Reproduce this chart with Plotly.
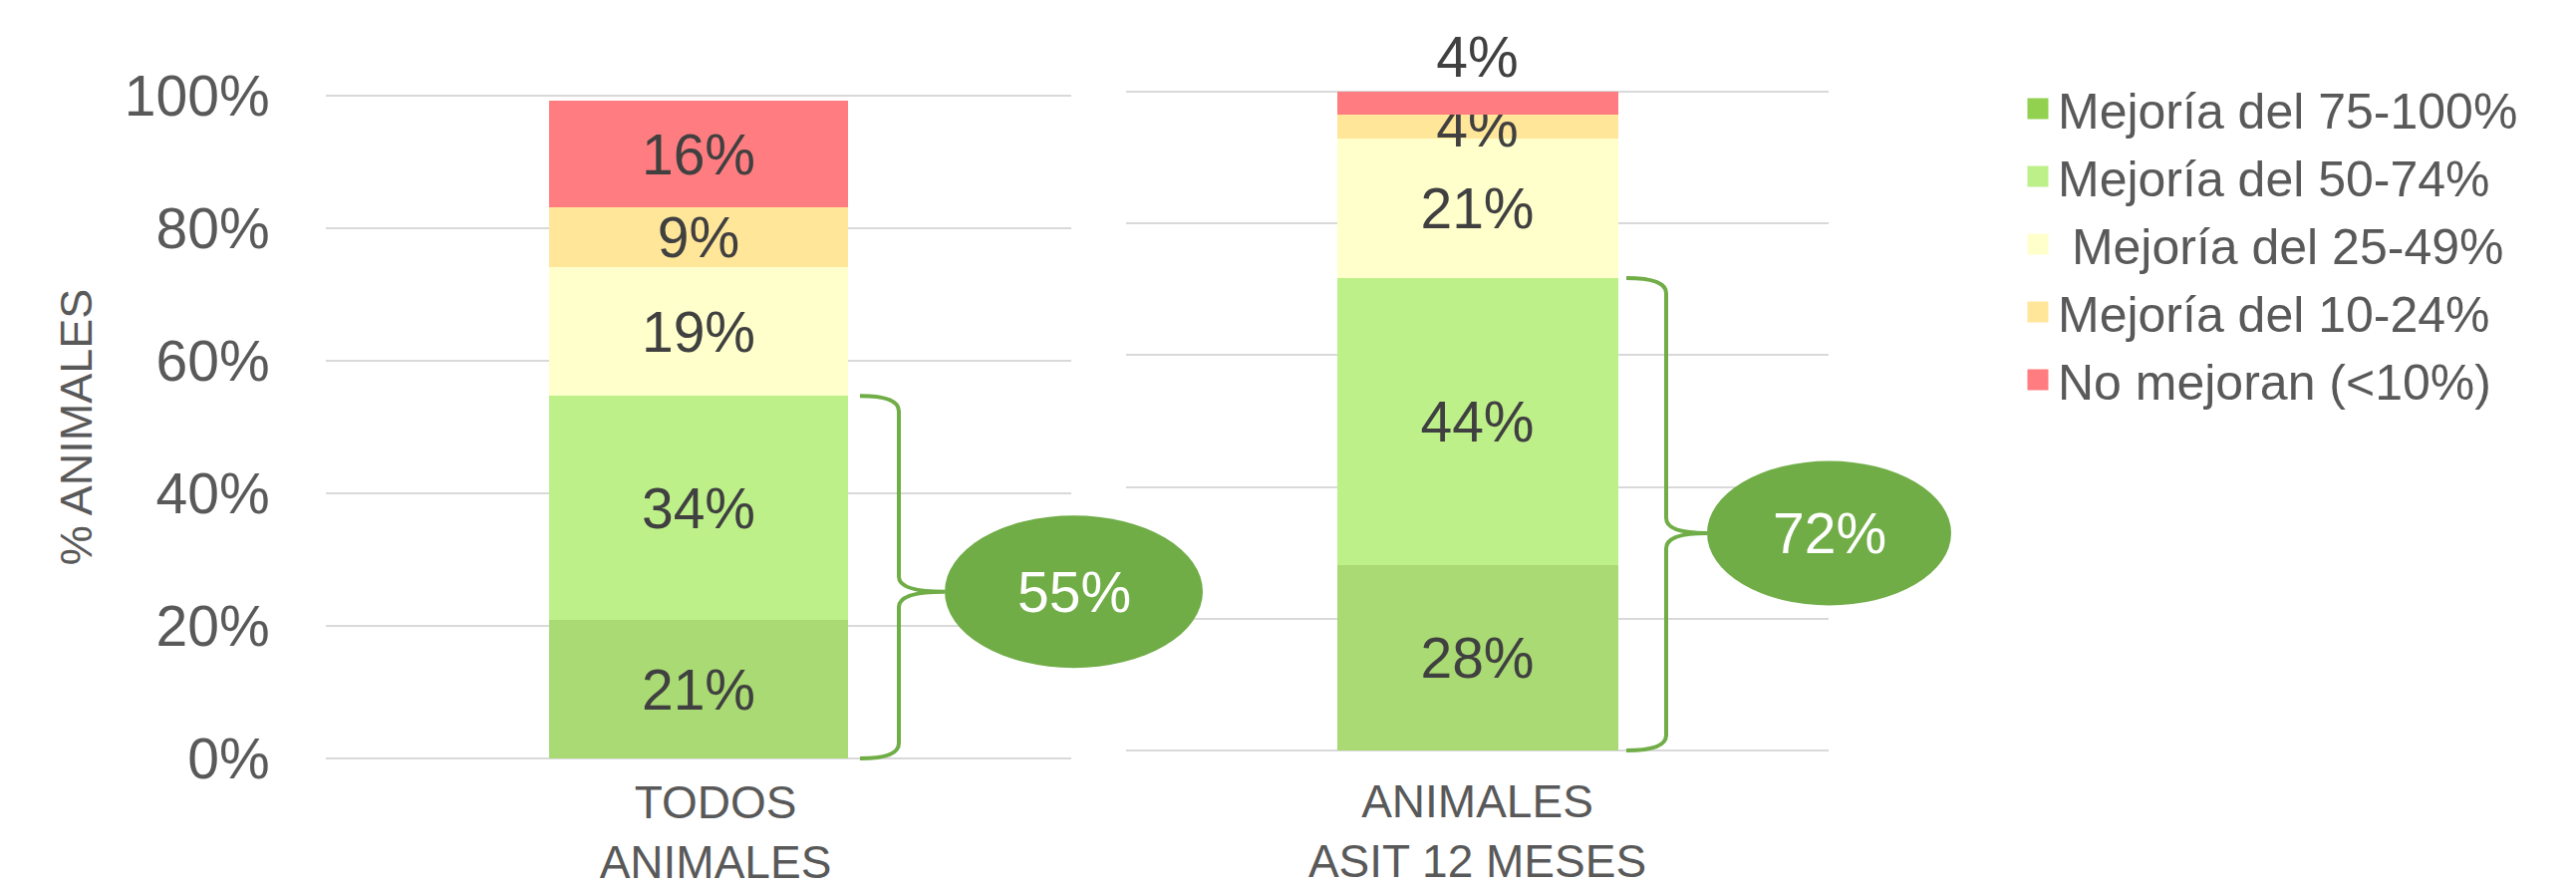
import plotly.graph_objects as go

# ---------------- data ----------------
series_names = ["Mejoría del 75-100%", "Mejoría del 50-74%", " Mejoría del 25-49%",
                "Mejoría del 10-24%", "No mejoran (<10%)"]
bar_colors = ["#A9DA74", "#BEF08A", "#FFFFCC", "#FFE699", "#FF7C80"]
legend_colors = ["#92D050", "#BEF08A", "#FFFFCC", "#FFE699", "#FF7C80"]

cat_left = "TODOS<br>ANIMALES"
cat_right = "ANIMALES<br>ASIT 12 MESES"

values_left = [20.9, 33.8, 19.4, 9.1, 16.0]
values_right = [28.1, 43.6, 21.2, 3.6, 3.5]

y_ticks = [0, 20, 40, 60, 80, 100]
y_ticktext = [f"{v}%" for v in y_ticks]

# ---------------- layout constants ----------------
W, H = 2585, 892
FONT = "Liberation Sans, Arial, sans-serif"
GREEN = "#70AD47"
TXT = "#404040"
AX = "#595959"
PAD = 0.6  # small range padding so the 0% / 100% gridlines are drawn

def px_x(p):
    return p / W

def px_y(p):
    return 1 - p / H

def ydom(p0, p100):
    unit = (p0 - p100) / 100.0
    return [px_y(p0 + PAD * unit), px_y(p100 - PAD * unit)]

x1_dom = [px_x(327), px_x(1075)]
x2_dom = [px_x(1130), px_x(1835)]
y1_dom = ydom(761, 96)
y2_dom = ydom(753, 92)

def lbl(v):
    return f"{int(v + 0.5)}%"

fig = go.Figure()

for vals, xa, ya in [(values_left, "x", "y"), (values_right, "x2", "y2")]:
    for i, (name, v) in enumerate(zip(series_names, vals)):
        top = (i == len(vals) - 1)
        pos = "outside" if (top and v < 5) else "inside"
        fig.add_trace(go.Bar(
            x=[0], y=[v], width=0.4, name=name,
            marker=dict(color=bar_colors[i], line=dict(width=0)),
            text=[lbl(v)], textposition=pos, textangle=0,
            insidetextanchor="middle",
            textfont=dict(size=57, color=TXT, family=FONT),
            cliponaxis=False, showlegend=False, hoverinfo="skip",
            xaxis=xa, yaxis=ya,
        ))

# legend entries
for k, (name, c) in enumerate(zip(series_names, legend_colors)):
    fig.add_trace(go.Scatter(
        x=[None], y=[None], mode="markers", name=name, legendgroup=f"g{k}",
        marker=dict(symbol="square", size=16, color=c, line=dict(width=5, color=c)),
        xaxis="x", yaxis="y",
    ))

# ---------------- braces + ellipses ----------------
shapes = []
annotations = []

def y_to_paper(val, dom):
    lo, hi = -PAD, 100 + PAD
    return dom[0] + (val - lo) / (hi - lo) * (dom[1] - dom[0])

for vals, ya, dom, bar_right, dxs, ell in [
    (values_left, "y", y1_dom, 851, (12, 51, 97), (259, 153)),
    (values_right, "y2", y2_dom, 1624, (8, 48, 89), (245, 145)),
]:
    ytop = vals[0] + vals[1]
    ybot = 0.0
    ymid = ytop * 0.46
    d = 2.3
    x0 = px_x(bar_right + dxs[0])
    x1 = px_x(bar_right + dxs[1])
    x2 = px_x(bar_right + dxs[2])
    path = (f"M {x0},{ytop} Q {x1},{ytop} {x1},{ytop - d} "
            f"L {x1},{ymid + d} Q {x1},{ymid} {x2},{ymid} "
            f"Q {x1},{ymid} {x1},{ymid - d} "
            f"L {x1},{ybot + d} Q {x1},{ybot} {x0},{ybot}")
    shapes.append(dict(type="path", path=path, xref="paper", yref=ya,
                       line=dict(color=GREEN, width=4), layer="above"))
    cy = y_to_paper(ymid, dom)
    ew, eh = ell[0] / W, ell[1] / H
    shapes.append(dict(type="circle", xref="paper", yref="paper",
                       x0=x2, x1=x2 + ew, y0=cy - eh / 2, y1=cy + eh / 2,
                       fillcolor=GREEN, line=dict(width=0), layer="above"))
    annotations.append(dict(xref="paper", yref="paper", x=x2 + ew / 2, y=cy,
                            text=lbl(ytop), showarrow=False,
                            font=dict(size=57, color="white", family=FONT),
                            xanchor="center", yanchor="middle"))

axis_common = dict(showline=False, zeroline=False, automargin=False)
grid = dict(showgrid=True, gridcolor="#D9D9D9", gridwidth=2)

fig.update_layout(
    width=W, height=H,
    margin=dict(l=0, r=0, t=0, b=0, pad=0, autoexpand=False),
    paper_bgcolor="white", plot_bgcolor="white",
    barmode="stack",
    uniformtext=dict(mode="show", minsize=57),
    font=dict(family=FONT, color=AX),
    showlegend=True,
    legend=dict(x=px_x(2025), y=px_y(70), xanchor="left", yanchor="top",
                font=dict(size=50, color=AX, family=FONT), tracegroupgap=4,
                traceorder="normal", bgcolor="rgba(0,0,0,0)"),
    xaxis=dict(domain=x1_dom, range=[-0.5, 0.5], tickvals=[0], ticktext=[cat_left],
               showgrid=False, ticks="outside", ticklen=0, tickcolor="rgba(0,0,0,0)",
               ticklabelshift=17,
               tickfont=dict(size=46, color=AX, family=FONT), anchor="y", **axis_common),
    xaxis2=dict(domain=x2_dom, range=[-0.5, 0.5], tickvals=[0], ticktext=[cat_right],
                showgrid=False, ticks="outside", ticklen=7, tickcolor="rgba(0,0,0,0)",
                tickfont=dict(size=46, color=AX, family=FONT), anchor="y2", **axis_common),
    yaxis=dict(domain=y1_dom, range=[-PAD, 100 + PAD], tickvals=y_ticks, ticktext=y_ticktext,
               ticks="outside", ticklen=44, tickcolor="rgba(0,0,0,0)",
               tickfont=dict(size=57, color=AX, family=FONT),
               title=dict(text="% ANIMALES", font=dict(size=45, color=AX, family=FONT), standoff=18),
               anchor="x", **grid, **axis_common),
    yaxis2=dict(domain=y2_dom, range=[-PAD, 100 + PAD], tickvals=y_ticks, showticklabels=False,
                anchor="x2", **grid, **axis_common),
    shapes=shapes,
    annotations=annotations,
)

fig.write_html("out.html", config={"displayModeBar": False},
               post_script="document.body.style.margin='0';")
